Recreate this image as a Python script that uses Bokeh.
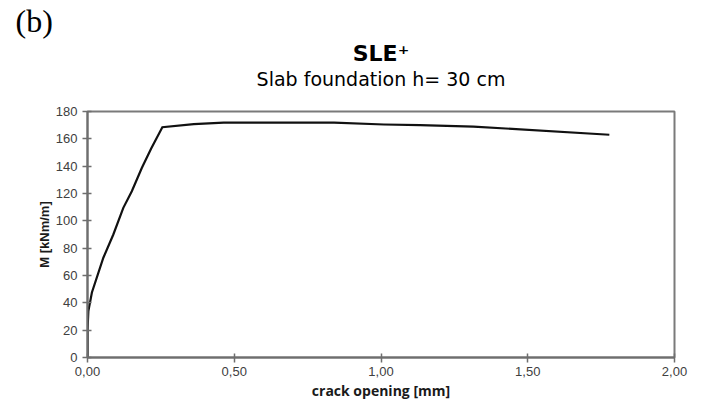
from bokeh.plotting import figure
from bokeh.models import Range1d, FixedTicker, Title
from bokeh.embed import file_html
from bokeh.resources import INLINE

# data
crack_opening = [0.0, 0.0, 0.003, 0.015, 0.054, 0.088, 0.122, 0.151, 0.185, 0.217,
                 0.255, 0.362, 0.464, 0.84, 1.01, 1.133, 1.315, 1.778]
moment = [0.0, 20.0, 34.0, 47.6, 73.0, 90.0, 109.5, 121.7, 138.7, 153.0,
          168.5, 170.8, 171.8, 171.8, 170.5, 170.0, 169.0, 163.0]

x_ticks = [0.0, 0.5, 1.0, 1.5, 2.0]
x_tick_labels = ["0,00", "0,50", "1,00", "1,50", "2,00"]
y_ticks = [0, 20, 40, 60, 80, 100, 120, 140, 160, 180]

panel_tag = "(b)"
title_text = "SLE\u207a"
subtitle_text = "Slab foundation h= 30 cm"
x_label = "crack opening [mm]"
y_label = "M [kNm/m]"

W, H = 705, 403
L, R, T, B = 87, 31, 110, 46

p = figure(width=W, height=H, output_backend="svg", toolbar_location=None,
           x_range=Range1d(0, 2), y_range=Range1d(0, 180),
           min_border_left=L, min_border_right=R, min_border_top=T, min_border_bottom=B)
p.xgrid.visible = False
p.ygrid.visible = False
p.background_fill_color = "white"
p.border_fill_color = "white"
p.outline_line_color = "#7a7a7a"
p.outline_line_width = 2

p.line(crack_opening, moment, line_color="#111111", line_width=2.2, line_join="miter")

for ax in (p.xaxis[0], p.yaxis[0]):
    ax.axis_line_color = "#6e6e6e"
    ax.axis_line_width = 2
    ax.major_tick_line_color = "#6e6e6e"
    ax.major_tick_line_width = 1.5
    ax.minor_tick_line_color = None
    ax.major_tick_in = 4
    ax.major_tick_out = 5
    ax.major_label_text_color = "#404040"

p.xaxis.ticker = FixedTicker(ticks=x_ticks)
p.xaxis.major_label_overrides = {t: s for t, s in zip(x_ticks, x_tick_labels)}
p.xaxis.major_label_text_font = "Liberation Sans"
p.xaxis.major_label_text_font_size = "13px"
p.xaxis.major_label_standoff = 4
p.xaxis.axis_label = x_label
p.xaxis.axis_label_text_font = "Open Sans"
p.xaxis.axis_label_text_font_style = "bold"
p.xaxis.axis_label_text_font_size = "14px"
p.xaxis.axis_label_text_color = "#1a1a1a"
p.xaxis.axis_label_standoff = 2

p.yaxis.ticker = FixedTicker(ticks=y_ticks)
p.yaxis.major_label_text_font = "Liberation Sans"
p.yaxis.major_label_text_font_size = "13px"
p.yaxis.major_label_standoff = 5
p.yaxis.axis_label = y_label
p.yaxis.axis_label_text_font = "Liberation Sans"
p.yaxis.axis_label_text_font_style = "bold"
p.yaxis.axis_label_text_font_size = "13px"
p.yaxis.axis_label_text_color = "#1a1a1a"
p.yaxis.axis_label_standoff = 1

def spacer(stand):
    # blank white line used only to leave room between stacked titles
    return Title(text=" ", text_font="Liberation Sans", text_font_size="4px",
                 text_color="white", standoff=stand)

# titles: added from the frame outward
p.add_layout(spacer(14.8), "above")
p.add_layout(Title(text=subtitle_text, align="center", vertical_align="bottom",
                   text_font="DejaVu Sans", text_font_style="normal",
                   text_font_size="19px", text_color="black", standoff=0), "above")
p.add_layout(Title(text=title_text, align="center", vertical_align="bottom",
                   text_font="DejaVu Sans", text_font_style="bold",
                   text_font_size="22px", text_color="black", standoff=0), "above")
p.add_layout(Title(text=panel_tag, align="left", offset=-72, vertical_align="bottom",
                   text_font="Liberation Serif", text_font_style="normal",
                   text_font_size="32px", text_color="black", standoff=0), "above")

open("out.html", "w").write(file_html(p, INLINE))
